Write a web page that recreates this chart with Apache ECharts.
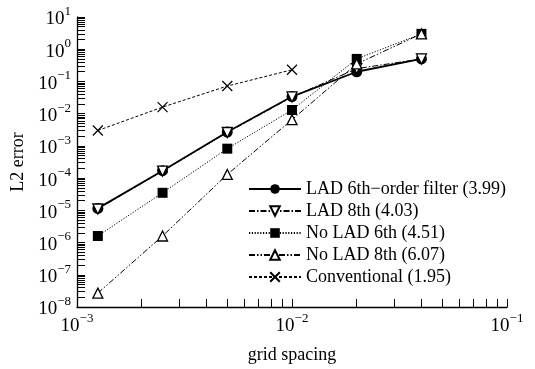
<!DOCTYPE html>
<html>
<head>
<meta charset="utf-8">
<script src="https://cdn.jsdelivr.net/npm/echarts@6/dist/echarts.min.js"></script>
<style>html,body{margin:0;padding:0;background:#fff}#c{width:535px;height:369px}</style>
</head>
<body>
<div id="c"></div>
<script>
var gridSpacing = [1.25e-3, 2.5e-3, 5e-3, 1e-2, 2e-2, 4e-2];
var lad6 = [1.15e-5, 1.7e-4, 2.7e-3, 3.4e-2, 0.2, 0.5];
var lad8 = [1.1e-5, 1.65e-4, 2.6e-3, 3.3e-2, 0.25, 0.5];
var noLad6 = [1.6e-6, 3.5e-5, 8.2e-4, 1.3e-2, 0.5, 3.0];
var noLad8 = [2.7e-8, 1.6e-6, 1.3e-4, 6.5e-3, 0.35, 3.0];
var conventional = [3.0e-3, 1.6e-2, 7.2e-2, 0.23];
var seriesNames = ['LAD 6th\u2212order filter (3.99)', 'LAD 8th (4.03)', 'No LAD 6th (4.51)', 'No LAD 8th (6.07)', 'Conventional (1.95)'];
var xDecades = [-3, -2, -1];
var yDecades = [-8, -7, -6, -5, -4, -3, -2, -1, 0, 1];
var minorSteps = [1, 2, 3, 4, 5, 6, 7, 8, 9];

function pairs(ys) { return ys.map(function (y, i) { return [gridSpacing[i], y]; }); }
function decadeVals(ds) { return ds.map(function (d) { return Math.pow(10, d); }); }
function tickVals(ds) {
  var out = [];
  ds.forEach(function (d, j) {
    minorSteps.forEach(function (k) {
      if (j === ds.length - 1 && k > 1) return;
      out.push(k * Math.pow(10, d));
    });
  });
  return out;
}
function supLabel(v) {
  var e = Math.round(Math.log(v) / Math.LN10);
  var s = e < 0 ? '\u2212' + (-e) : String(e);
  return '{b|10}{s|' + s + '}';
}
var FONT = '"Liberation Serif", "Times New Roman", serif';
var rich = {
  b: { fontFamily: FONT, fontSize: 19, color: '#000', verticalAlign: 'bottom', lineHeight: 24 },
  s: { fontFamily: FONT, fontSize: 13, color: '#000', verticalAlign: 'top', lineHeight: 13 }
};
var axisCommon = {
  type: 'log', logBase: 10,
  axisLine: { show: true, lineStyle: { color: '#000', width: 1.3 } },
  splitLine: { show: false },
  minorTick: { show: false }
};
var chart = echarts.init(document.getElementById('c'), null, { renderer: 'canvas' });
var tri = 'triangle';
var crossPath = 'path://M0,0L10,10M10,0L0,10';
chart.setOption({
  animation: false,
  backgroundColor: '#fff',
  grid: { left: 77, top: 17, width: 430, height: 297, containLabel: false },
  xAxis: Object.assign({}, axisCommon, {
    min: 1e-3, max: 1e-1,
    name: 'grid spacing', nameLocation: 'middle', nameGap: 39,
    nameTextStyle: { fontFamily: FONT, fontSize: 18, color: '#000' },
    axisTick: { show: true, inside: true, length: 8, lineStyle: { color: '#000', width: 1 }, customValues: tickVals(xDecades) },
    axisLabel: { show: true, customValues: decadeVals(xDecades), formatter: supLabel, rich: rich, margin: 5 }
  }),
  yAxis: Object.assign({}, axisCommon, {
    min: 1e-8, max: 10,
    name: 'L2 error', nameLocation: 'middle', nameGap: 45, nameRotate: 90,
    nameTextStyle: { fontFamily: FONT, fontSize: 18, color: '#000' },
    axisTick: { show: true, inside: true, length: 8, lineStyle: { color: '#000', width: 1 }, customValues: tickVals(yDecades) },
    axisLabel: { show: true, customValues: decadeVals(yDecades), formatter: supLabel, rich: rich, margin: 6 }
  }),
  legend: {
    orient: 'vertical', left: 243, top: 175,
    itemWidth: 52, itemHeight: 12, itemGap: 4, itemTextGap: 5,
    textStyle: { fontFamily: FONT, fontSize: 18, color: '#000', lineHeight: 18 },
    data: seriesNames
  },
  series: [
    { name: seriesNames[0], type: 'line', data: pairs(lad6), symbol: 'circle', symbolSize: 11,
      itemStyle: { color: '#000' }, lineStyle: { color: '#000', width: 1.8 } },
    { name: seriesNames[1], type: 'line', data: pairs(lad8), symbol: tri, symbolRotate: 180, symbolSize: 10,
      itemStyle: { color: '#fff', borderColor: '#000', borderWidth: 1.3 },
      lineStyle: { color: '#000', width: 1, type: [6, 2, 1.5, 2] } },
    { name: seriesNames[2], type: 'line', data: pairs(noLad6), symbol: 'rect', symbolSize: 10,
      itemStyle: { color: '#000' }, lineStyle: { color: '#000', width: 1, type: [1.2, 1.6] } },
    { name: seriesNames[3], type: 'line', data: pairs(noLad8), symbol: tri, symbolSize: 10,
      itemStyle: { color: '#fff', borderColor: '#000', borderWidth: 1.3 },
      lineStyle: { color: '#000', width: 1, type: [6, 2, 1.5, 2, 1.5, 2] } },
    { name: seriesNames[4], type: 'line', data: pairs(conventional), symbol: crossPath, symbolSize: 10,
      itemStyle: { color: 'none', borderColor: '#000', borderWidth: 1.2 },
      lineStyle: { color: '#000', width: 1, type: [3, 2] } }
  ]
});
</script>
</body>
</html>
